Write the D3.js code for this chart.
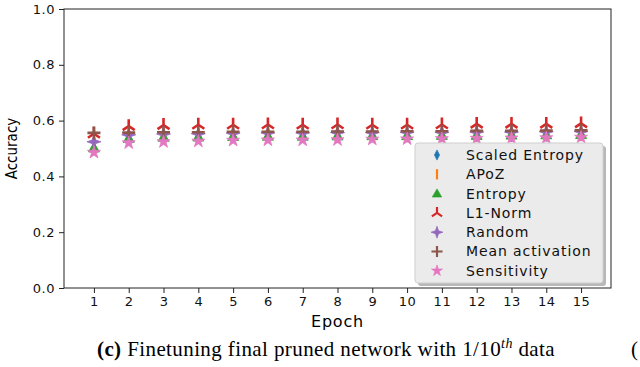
<!DOCTYPE html>
<html>
<head>
<meta charset="utf-8">
<script src="https://cdn.jsdelivr.net/npm/d3@7"></script>
<style>
  body { margin: 0; background: #fff; }
  svg { display: block; }
  .axis text { font-family: "DejaVu Sans", sans-serif; font-size: 13px; fill: #111; letter-spacing: 0.5px; }
  .axis path, .axis line { stroke: #222; }
</style>
</head>
<body>
<div class="chart"></div>
<script>
// data
let epochs = [1, 2, 3, 4, 5, 6, 7, 8, 9, 10, 11, 12, 13, 14, 15];
let yTicks = [0.0, 0.2, 0.4, 0.6, 0.8, 1.0];
let seriesNames = ["Scaled Entropy", "APoZ", "Entropy", "L1-Norm", "Random", "Mean activation", "Sensitivity"];
let scaledEntropy = [0.497, 0.532, 0.538, 0.539, 0.541, 0.542, 0.542, 0.543, 0.544, 0.544, 0.545, 0.546, 0.546, 0.547, 0.548];
let apoz          = [0.500, 0.533, 0.539, 0.540, 0.542, 0.543, 0.543, 0.544, 0.545, 0.545, 0.546, 0.547, 0.547, 0.548, 0.549];
let entropy       = [0.502, 0.536, 0.540, 0.541, 0.543, 0.544, 0.544, 0.545, 0.546, 0.546, 0.547, 0.547, 0.548, 0.549, 0.550];
let l1Norm        = [0.553, 0.580, 0.584, 0.585, 0.585, 0.586, 0.585, 0.586, 0.585, 0.585, 0.586, 0.588, 0.588, 0.588, 0.590];
let random        = [0.524, 0.549, 0.552, 0.553, 0.555, 0.556, 0.556, 0.557, 0.557, 0.558, 0.558, 0.559, 0.559, 0.560, 0.561];
let meanAct       = [0.556, 0.557, 0.558, 0.558, 0.560, 0.560, 0.560, 0.561, 0.561, 0.562, 0.562, 0.563, 0.563, 0.564, 0.565];
let sensitivity   = [0.486, 0.520, 0.524, 0.526, 0.529, 0.530, 0.530, 0.531, 0.533, 0.534, 0.535, 0.536, 0.537, 0.538, 0.540];

let allSeries = [scaledEntropy, apoz, entropy, l1Norm, random, meanAct, sensitivity];
let colors = ["#1f77b4", "#ff7f0e", "#2ca02c", "#d62728", "#9467bd", "#8c564b", "#e377c2"];
let shapes = ["thin_diamond", "vline", "triangle", "tri_up", "sparkle", "plus", "star"];

let W = 640, H = 367;
let margin = { top: 9, right: 29, bottom: 79, left: 64 },
  width = W - margin.left - margin.right,
  height = H - margin.top - margin.bottom;

let svg = d3.select(".chart").append("svg")
  .attr("width", W).attr("height", H);

let g = svg.append("g")
  .attr("transform", "translate(" + margin.left + "," + margin.top + ")");

let x = d3.scaleLinear().domain([0.14, 15.86]).range([0, width]);
let y = d3.scaleLinear().domain([0, 1]).range([height, 0]);

// marker paths, centred on 0,0
function markerPath(shape) {
  switch (shape) {
    case "thin_diamond": return "M0,-6L3,0L0,6L-3,0Z";
    case "vline": return "M0,-6L0,6";
    case "triangle": return "M0,-5.5L5.5,4L-5.5,4Z";
    case "tri_up": return "M0,0L0,-7M0,0L-6,4M0,0L6,4";
    case "sparkle": return "M0,-7L1.8,-1.8L7,0L1.8,1.8L0,7L-1.8,1.8L-7,0L-1.8,-1.8Z";
    case "plus": return "M-6.5,0L6.5,0M0,-6.5L0,6.5";
    case "star": return d3.symbol().type(d3.symbolStar).size(52)();
  }
}
function styleMarker(sel, i) {
  let s = shapes[i];
  let lineLike = (s == "vline" || s == "tri_up" || s == "plus");
  sel.attr("d", markerPath(s))
    .attr("fill", lineLike ? "none" : colors[i])
    .attr("stroke", colors[i])
    .attr("stroke-width", lineLike ? 2.6 : 0.8)
    .attr("stroke-linecap", "butt");
}

// axes
let xAxis = d3.axisBottom(x).tickValues(epochs).tickFormat(d3.format("d")).tickSizeOuter(0).tickSize(5).tickPadding(4);
let yAxis = d3.axisLeft(y).tickValues(yTicks).tickFormat(d3.format(".1f")).tickSizeOuter(0).tickSize(5).tickPadding(4);

g.append("g").attr("class", "x-axis axis")
  .attr("transform", "translate(0," + height + ")")
  .call(xAxis);
g.append("g").attr("class", "y-axis axis").call(yAxis);
g.selectAll(".axis .domain").remove();

// frame
g.append("rect")
  .attr("width", width).attr("height", height)
  .attr("fill", "none").attr("stroke", "#222").attr("stroke-width", 1);

// points
allSeries.forEach(function (vals, i) {
  g.selectAll(".pt" + i)
    .data(vals)
    .enter().append("path")
    .attr("class", "pt" + i)
    .attr("transform", function (d, j) { return "translate(" + x(epochs[j]) + "," + y(d) + ")"; })
    .call(styleMarker, i);
});

// legend
let lg = g.append("g").attr("transform", "translate(351,134)");
lg.append("rect").attr("x", 3).attr("y", 3).attr("width", 188).attr("height", 140)
  .attr("rx", 3).attr("fill", "#b8b8b8");
lg.append("rect").attr("width", 188).attr("height", 140)
  .attr("rx", 3).attr("fill", "#ebebeb").attr("stroke", "#cfcfcf");
seriesNames.forEach(function (name, i) {
  let row = lg.append("g").attr("transform", "translate(22," + (12 + i * 19.3) + ")");
  row.append("path").call(styleMarker, i)
    .attr("transform", "scale(0.85)");
  row.append("text").attr("x", 29).attr("dy", "0.35em")
    .style("font-family", "DejaVu Sans, sans-serif").style("font-size", "14px")
    .style("letter-spacing", "0.9px")
    .attr("fill", "#111").text(name);
});

// axis titles
svg.append("text")
  .attr("x", margin.left + width / 2).attr("y", 327)
  .attr("text-anchor", "middle")
  .style("font-family", "DejaVu Sans, sans-serif").style("font-size", "16px")
  .style("letter-spacing", "0.8px")
  .text("Epoch");

svg.append("text")
  .attr("transform", "translate(17," + (margin.top + height / 2) + ") rotate(-90)")
  .attr("text-anchor", "middle")
  .style("font-family", "DejaVu Sans Condensed, DejaVu Sans, sans-serif").style("font-size", "15px")
  .style("font-stretch", "condensed")
  .text("Accuracy");

// caption
let cap = svg.append("text")
  .attr("x", 97).attr("y", 356)
  .style("font-family", "Liberation Serif, DejaVu Serif, serif").style("font-size", "21px")
  .style("letter-spacing", "0.4px");
cap.append("tspan").style("font-weight", "bold").text("(c)");
cap.append("tspan").text(" Finetuning final pruned network with 1/10");
cap.append("tspan").attr("dy", -8).style("font-size", "14px").style("font-style", "italic").text("th");
cap.append("tspan").attr("dy", 8).text(" data");

svg.append("text")
  .attr("x", 631).attr("y", 356)
  .style("font-family", "Liberation Serif, serif").style("font-size", "21px")
  .text("(");
</script>
</body>
</html>
